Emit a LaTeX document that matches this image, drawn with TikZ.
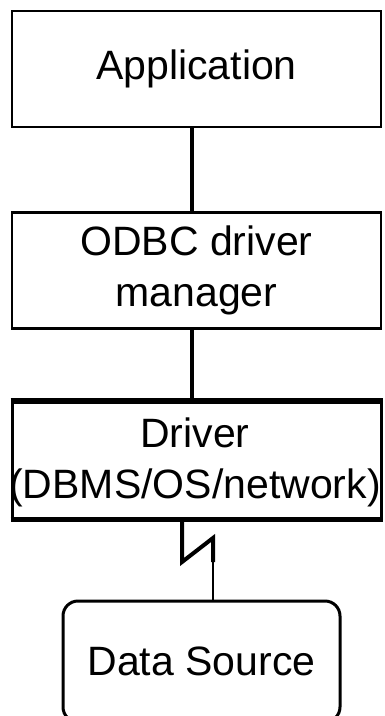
\documentclass[tikz,border=0pt]{standalone}
\usepackage{fontspec}
\setmainfont{Liberation Sans}
\begin{document}
\begin{tikzpicture}[x=1pt,y=-1pt,
  lbl/.style={font=\fontsize{41}{51}\selectfont, align=center, inner sep=0pt},
  boxA/.style={draw, line width=2.5pt, minimum width=369pt, minimum height=116pt, inner sep=0pt},
  conn/.style={line width=4pt},
  thinconn/.style={line width=2.8pt}]
\useasboundingbox (0,0) rectangle (384,716);
\fill[white] (0,0) rectangle (384,716);
% boxes
\node[boxA, lbl] (app) at (196.5,69) {Application};
\node[boxA, lbl] (odbc) at (196.5,270.5) {ODBC driver\\manager};
\node[boxA, line width=3pt] (drv) at (196.5,460) {};
\draw[line width=4.5pt] (drv.north west) -- (drv.north east);
\draw[line width=4.5pt] (drv.south west) -- (drv.south east);
\node[lbl] (drvt) at (195,462) {Driver\\(DBMS/OS/network)};
\node[draw, line width=3pt, rounded corners=15pt, minimum width=277pt, minimum height=121pt, lbl] (ds) at (201.5,661.5) {Data Source};
% connectors
\coordinate (cx) at (192,0);
\draw[conn] (app.south -| cx) -- (odbc.north -| cx);
\draw[conn] (odbc.south -| cx) -- (drv.north -| cx);
% lightning connector
\coordinate (l0) at (182,0);
\coordinate (l1) at (182,562);
\coordinate (l2) at (213,538);
\coordinate (l3) at (213,562);
\draw[conn, line join=miter] (drv.south -| l0) -- (l1) -- (l2) -- (l3);
\draw[thinconn] (l2) -- (ds.north -| l2);
\end{tikzpicture}
\end{document}
